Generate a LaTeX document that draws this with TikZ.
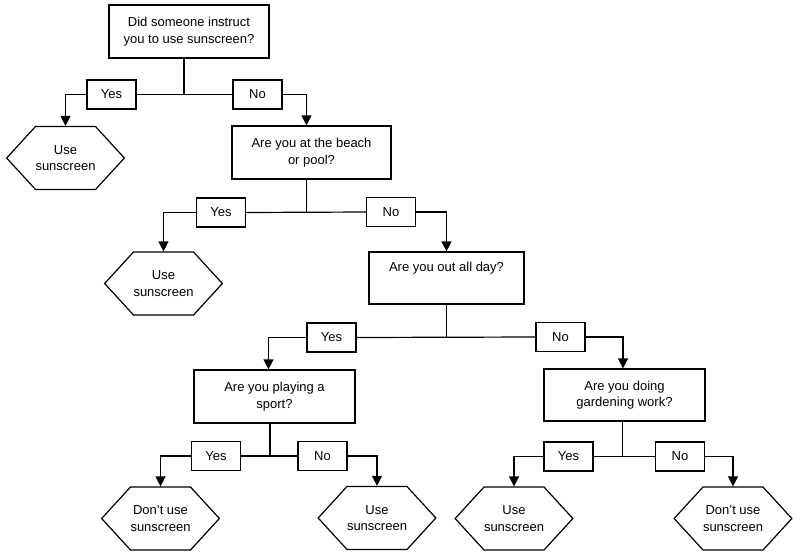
\documentclass[tikz,border=0pt]{standalone}
\usepackage{fontspec}
\setmainfont{Liberation Sans}
\usetikzlibrary{shapes.symbols,arrows.meta}
\begin{document}
\begin{tikzpicture}[x=1pt,y=-1pt,
  every node/.style={font=\fontsize{13}{16.5}\selectfont, align=center, inner sep=0pt},
  qbox/.style={draw, line width=1.2pt, minimum height=53pt},
  lbl/.style={draw, line width=1.2pt, minimum width=49pt, minimum height=29pt},
  hexa/.style={draw, line width=1.2pt, shape=signal, signal to=west and east, signal pointer angle=95, minimum width=117pt, minimum height=63pt},
  conn/.style={line width=1.2pt},
  arr/.style={line width=1.2pt, -{Triangle[length=10pt,width=10pt]}}]
\useasboundingbox (0,0) rectangle (800,557);
% nodes
\node[qbox, minimum width=160pt] (q1) at (189,31.5) {Did someone instruct\\you to use sunscreen?};
\node[lbl] (y1) at (111.5,94.5) {Yes};
\node[lbl] (n1) at (257.5,94.5) {No};
\node[hexa] (h1) at (65.5,158) {Use\\sunscreen};
\node[qbox, minimum width=159pt] (q2) at (311.5,152.5) {Are you at the beach\\or pool?};
\node[lbl] (y2) at (221,212.5) {Yes};
\node[lbl] (n2) at (391,212) {No};
\node[hexa] (h2) at (163.5,283.5) {Use\\sunscreen};
\node[qbox, minimum width=155pt, minimum height=52pt] (q3) at (446.5,278) {Are you out all day?\\\strut};
\node[lbl] (y3) at (331.5,337.5) {Yes};
\node[lbl] (n3) at (560.5,337) {No};
\node[qbox, minimum width=161pt] (q4) at (274.5,396.5) {Are you playing a\\sport?};
\node[qbox, minimum width=161pt, minimum height=52pt] (q5) at (624.5,395) {Are you doing\\gardening work?};
\node[lbl] (y4) at (216,456) {Yes};
\node[lbl] (n4) at (322.5,456) {No};
\node[lbl] (y5) at (568.5,456.5) {Yes};
\node[lbl] (n5) at (680,456.5) {No};
\node[hexa] (h4a) at (160.5,518.5) {Don't use\\sunscreen};
\node[hexa] (h4b) at (377,518) {Use\\sunscreen};
\node[hexa] (h5a) at (514,518.5) {Use\\sunscreen};
\node[hexa] (h5b) at (733,518.5) {Don't use\\sunscreen};
% connectors
\coordinate (j1) at ([xshift=-5pt]q1.south |- y1.east);
\draw[conn] ([xshift=-5pt]q1.south) -- (j1);
\draw[conn] (y1.east) -- (n1.west);
\draw[arr] (y1.west) -| (h1.north);
\draw[arr] (n1.east) -| ([xshift=-5pt]q2.north);
\coordinate (j2) at ([xshift=-5pt]q2.south |- y2.east);
\draw[conn] ([xshift=-5pt]q2.south) -- (j2);
\draw[conn] (y2.east) -- (n2.west);
\draw[arr] (y2.west) -| (h2.north);
\draw[arr] (n2.east) -| (q3.north);
\coordinate (j3) at (q3.south |- y3.east);
\draw[conn] (q3.south) -- (j3);
\draw[conn] (y3.east) -- (n3.west);
\draw[arr] (y3.west) -| ([xshift=-6pt]q4.north);
\draw[arr] (n3.east) -| ([xshift=-1.5pt]q5.north);
\coordinate (j4) at ([xshift=-4.5pt]q4.south |- y4.east);
\draw[conn] ([xshift=-4.5pt]q4.south) -- (j4);
\draw[conn] (y4.east) -- (n4.west);
\draw[arr] (y4.west) -| (h4a.north);
\draw[arr] (n4.east) -| (h4b.north);
\coordinate (j5) at ([xshift=-2pt]q5.south |- y5.east);
\draw[conn] ([xshift=-2pt]q5.south) -- (j5);
\draw[conn] (y5.east) -- (n5.west);
\draw[arr] (y5.west) -| (h5a.north);
\draw[arr] (n5.east) -| (h5b.north);
\end{tikzpicture}
\end{document}
